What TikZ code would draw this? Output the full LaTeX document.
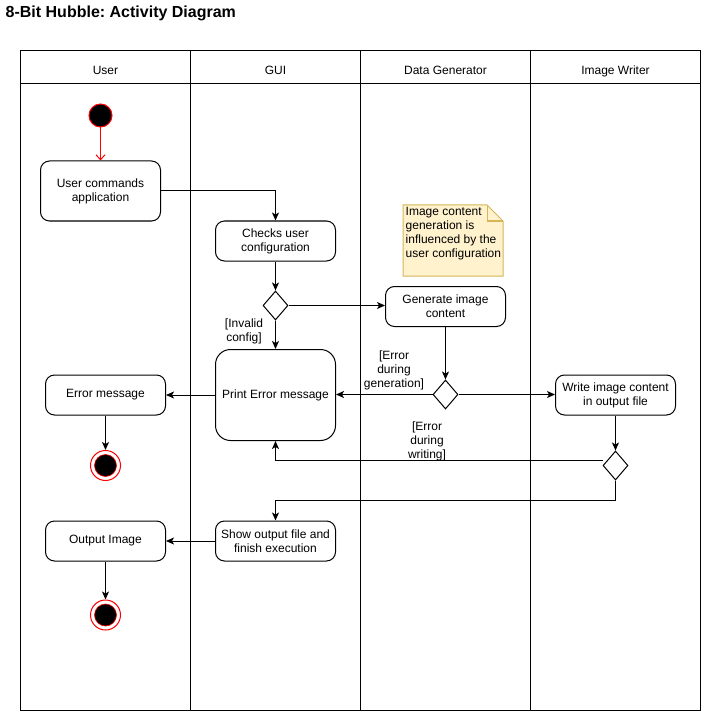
\documentclass[tikz,border=0pt]{standalone}
\usepackage{fontspec}
\setmainfont{Liberation Sans}
\usetikzlibrary{arrows.meta,shapes.geometric}
\frenchspacing
\begin{document}
\begin{tikzpicture}[x=1pt,y=-1pt,
  every node/.style={font=\fontsize{12}{14}\selectfont, inner sep=0pt},
  act/.style={draw, rounded corners=9pt, minimum width=120pt, minimum height=40pt, align=center, line width=1pt},
  dec/.style={draw, diamond, minimum width=25pt, minimum height=29pt, line width=1pt},
  arr/.style={line width=1pt, -{Stealth[length=8pt,width=7pt,inset=2pt]}},
  ln/.style={line width=1pt},
  lbl/.style={align=center},
  startst/.style={circle, fill=black, draw=red, line width=1pt, minimum size=23pt},
  endouter/.style={circle, fill=white, draw=red, line width=1pt, minimum size=30pt},
  endinner/.style={circle, fill=black, draw=red, line width=0.6pt, minimum size=22pt},
  lanehead/.style={font=\fontsize{12}{14}\selectfont, anchor=base},
]
\useasboundingbox (0,0) rectangle (701,711);
% title
\node[anchor=base west, font=\fontsize{16}{19}\bfseries] (title) at (5.5,17.5) {8-Bit Hubble: Activity Diagram};
% pool
\draw[ln] (20.5,50.5) rectangle (700,710);
\draw[ln] (20.5,84) -- (700,84);
\draw[ln] (190.5,50.5) -- (190.5,710);
\draw[ln] (360.5,50.5) -- (360.5,710);
\draw[ln] (530.5,50.5) -- (530.5,710);
\node[lanehead] (hUser) at (105.5,74.5) {User};
\node[lanehead] (hGUI) at (275.5,74.5) {GUI};
\node[lanehead] (hDG) at (445.5,74.5) {Data Generator};
\node[lanehead] (hIW) at (615.5,74.5) {Image Writer};
% note
\fill[fill={rgb,255:red,255;green,242;blue,204}] (403,205) -- (487,205) -- (503,221) -- (503,276) -- (403,276) -- cycle;
\draw[draw={rgb,255:red,214;green,182;blue,86}, line width=1pt] (403,205) -- (487,205) -- (503,221) -- (503,276) -- (403,276) -- cycle;
\draw[draw={rgb,255:red,214;green,182;blue,86}, line width=1pt] (487,205) -- (487,221) -- (503,221);
\node[anchor=north west, align=left] (note) at (405.5,207) {Image content\\generation is\\influenced by the\\user configuration};
% nodes
\node[startst] (start) at (100.5,115.5) {};
\node[act, minimum height=60pt] (uca) at (100.5,191) {User commands\\application};
\node[act] (chk) at (275.5,241) {Checks user\\configuration};
\node[dec] (d1) at (275.5,305.5) {};
\node[act] (gen) at (445.5,306.5) {Generate image\\content};
\node[act, minimum height=91pt, rounded corners=15pt] (pe) at (275.5,395) {Print Error message};
\node[dec] (d2) at (445.5,394.5) {};
\node[act] (wr) at (615.5,395) {Write image content\\in output file};
\node[dec] (d3) at (615.5,465.5) {};
\node[act] (em) at (105.5,395) {Error message};
\node[endouter] (e1) at (105.5,465.5) {};
\node[endinner] (e1i) at (105.5,465.5) {};
\node[act] (so) at (275.5,541) {Show output file and\\finish execution};
\node[act] (oi) at (105.5,541) {Output Image};
\node[endouter] (e2) at (105.5,615) {};
\node[endinner] (e2i) at (105.5,615) {};
% labels
\node[lbl] (linv) at (244,331) {[Invalid\\config]};
\node[lbl] (lgen) at (394,370.5) {[Error\\during\\generation]};
\node[lbl] (lwr) at (427,441.5) {[Error\\during\\writing]};
% connectors
\draw[red, line width=1pt, -{Straight Barb[length=5pt,width=9pt]}] (start) -- (start |- uca.north);
\draw[arr] (uca.east) -| (chk.north);
\draw[arr] (chk.south) -- (d1.north);
\draw[arr] (d1.east) -- (d1.east -| gen.west);
\draw[arr] (d1.south) -- (pe.north);
\draw[arr] (gen.south) -- (d2.north);
\draw[arr] (d2.west) -- (d2.west -| pe.east);
\draw[arr] (d2.east) -- (d2.east -| wr.west);
\draw[arr] (pe.west |- em.east) -- (em.east);
\draw[arr] (em.south) -- (e1.north);
\draw[arr] (wr.south) -- (d3.north);
\draw[arr] ([yshift=5pt]d3.west) -| (pe.south);
\draw[arr] (d3.south) -- ++(0,20) -| (so.north);
\draw[arr] (so.west) -- (oi.east);
\draw[arr] (oi.south) -- (e2.north);
\end{tikzpicture}
\end{document}
